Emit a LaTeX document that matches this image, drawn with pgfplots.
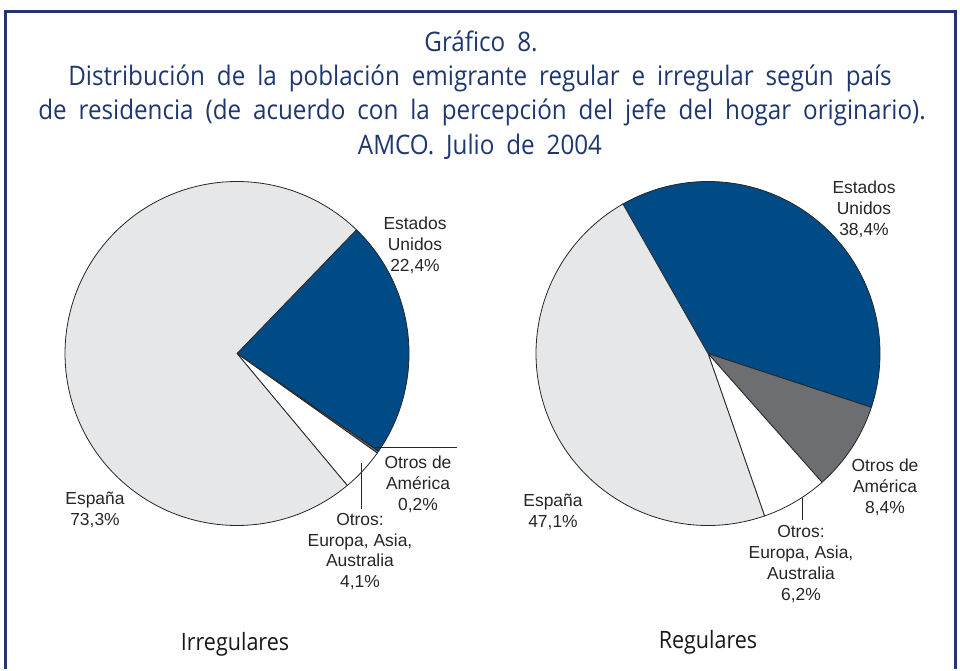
\documentclass[border=0pt]{standalone}
\usepackage{fontspec}
\setmainfont{Liberation Sans}
\newfontfamily\titlefont[FakeStretch=0.9, WordSpace=1.9]{Open Sans}
\usepackage{pgfplots}
\usepackage{pgfplotstable}
\pgfplotsset{compat=1.18}
\definecolor{navy}{RGB}{30,55,112}
\definecolor{usblue}{RGB}{0,74,134}
\definecolor{lgray}{RGB}{230,231,232}
\definecolor{dgray}{RGB}{109,110,113}

% Irregulares (clockwise from 46 deg)
\pgfplotstableread{
pct color
22.4 usblue
0.2 dgray
4.1 white
73.3 lgray
}\irregtable
% Regulares (clockwise from 120 deg)
\pgfplotstableread{
pct color
38.4 usblue
8.4 dgray
6.2 white
47.1 lgray
}\regtable

\newcommand\drawpie[4]{%
  \xdef\piestart{#4}%
  \pgfplotstablegetrowsof{#1}%
  \pgfmathtruncatemacro\lastrow{\pgfplotsretval-1}%
  \pgfplotsforeachungrouped \i in {0,...,\lastrow}{%
    \pgfplotstablegetelem{\i}{pct}\of{#1}\let\pct\pgfplotsretval
    \pgfplotstablegetelem{\i}{color}\of{#1}\let\col\pgfplotsretval
    \pgfmathsetmacro\angA{\piestart}%
    \pgfmathsetmacro\angB{\piestart-3.6*\pct}%
    \edef\doit{\noexpand\addplot[fill=\col, draw=black!85, line width=0.8pt, line join=round, domain=\angB:\angA, samples=120, variable=\noexpand\t] ({#2+172*cos(\noexpand\t)},{#3+172*sin(\noexpand\t)}) -- (#2,#3) -- cycle;}%
    \doit
    \xdef\piestart{\angB}%
  }%
}

\begin{document}
\begin{tikzpicture}
\begin{axis}[
  scale only axis, width=960bp, height=667bp,
  xmin=0, xmax=960, ymin=0, ymax=667,
  hide axis, clip=false,
]
\path (0,0) rectangle (960,667);
% frame
\draw[navy, line width=3bp] (5.5,-2) -- (5.5,655.5) -- (955.5,655.5) -- (955.5,-2);
% title
\begin{scope}[every node/.style={anchor=base, text=navy, font=\titlefont\fontsize{27}{30}\selectfont}]
\node at (481,615.6) {Gráfico 8.};
\node at (480,581.3) {Distribución de la población emigrante regular e irregular según país};
\node at (482,547) {de residencia (de acuerdo con la percepción del jefe del hogar originario).};
\node at (480,512.7) {AMCO. Julio de 2004};
\end{scope}

\drawpie{\irregtable}{237}{313.5}{46}
\drawpie{\regtable}{708}{313.5}{120}

% leader lines
\draw[black!85, line width=0.8pt] (373,219.5) -- (457,219.5);
\draw[black!85, line width=0.8pt] (361,204) -- (361,158);
\draw[black!85, line width=0.8pt] (802,169) -- (802,147);

\begin{scope}[every node/.style={align=center, font=\fontsize{17.5}{21}\selectfont, text=black!85}]
\node at (415,422) {Estados\\Unidos\\22,4\%};
\node at (418,183) {Otros de\\América\\0,2\%};
\node at (360,115.5) {Otros:\\Europa, Asia,\\Australia\\4,1\%};
\node at (95,157.5) {España\\73,3\%};
\node at (864,458) {Estados\\Unidos\\38,4\%};
\node at (885,180) {Otros de\\América\\8,4\%};
\node at (801,103) {Otros:\\Europa, Asia,\\Australia\\6,2\%};
\node at (553,155) {España\\47,1\%};
\end{scope}
\node[anchor=base, font=\titlefont\fontsize{24}{28}\selectfont, text=black!90] at (235,17) {Irregulares};
\node[anchor=base, font=\titlefont\fontsize{24}{28}\selectfont, text=black!90] at (708,19) {Regulares};
\end{axis}
\end{tikzpicture}
\end{document}
